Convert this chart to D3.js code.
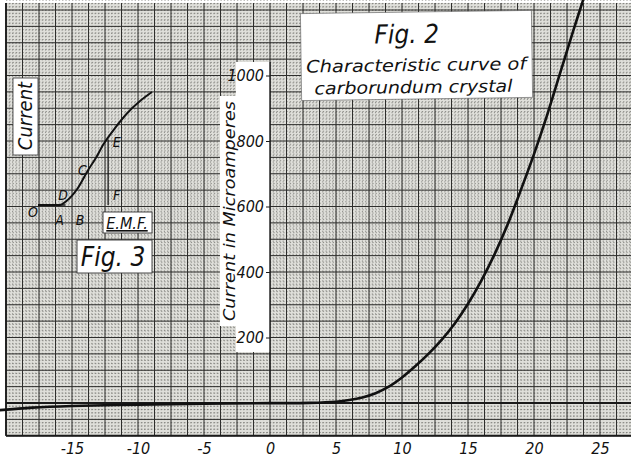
<!DOCTYPE html>
<html>
<head>
<meta charset="utf-8">
<script src="https://cdn.jsdelivr.net/npm/d3@7"></script>
<style>
    html, body { margin: 0; padding: 0; background: #fff; }
    svg text { font-family: "Liberation Sans Narrow", "DejaVu Sans Condensed", "Liberation Sans", sans-serif; font-style: italic; fill: #111; }
</style>
</head>
<body>
<div id="chart"></div>
<script>
// Fig. 2 - characteristic curve of carborundum crystal
var voltage = [-20.5, -18, -15, -10, -5, 0, 3, 5, 6, 7, 8, 9, 10, 11, 12, 13, 14, 15, 16, 17, 18, 19, 20, 21, 22, 23, 23.8];
var current = [-22, -14, -9, -5, -2, -0.5, 0.5, 4, 9, 17, 30, 50, 78, 112, 150, 193, 243, 303, 373, 453, 545, 650, 760, 880, 1010, 1140, 1240];
var xTicks = [-15, -10, -5, 0, 5, 10, 15, 20, 25];
var yTicks = [200, 400, 600, 800, 1000];

// Fig. 3 - small sketch, arbitrary units
var insetEmf = [0, 1.9, 2.5, 3.5, 4.4, 5.1, 5.7, 6.75, 7.8, 8.95, 10];
var insetCurrent = [0, 0, 0.35, 1.5, 3.1, 4.2, 5.3, 6.8, 8.1, 9.2, 10];
var insetLetters = ["O", "D", "C", "E", "F", "A", "B"];
var insetLetterEmf = [-0.45, 2.2, 3.9, 6.9, 6.9, 1.9, 3.7];
var insetLetterCurrent = [-0.7, 0.8, 3.0, 5.5, 0.8, -1.4, -1.4];

var W = 631, H = 457;

var svg = d3.select("#chart").append("svg")
    .attr("width", W).attr("height", H)
    .attr("xmlns", "http://www.w3.org/2000/svg");

var xScale = d3.scaleLinear().domain([0, 25]).range([270, 600]);
var yScale = d3.scaleLinear().domain([0, 1000]).range([403, 75.5]);

var gridLeft = xScale(-20), gridBottom = yScale(-100), gridTop = 3;

//paper
svg.append("rect").attr("width", W).attr("height", H).attr("fill", "#fff");
svg.append("rect")
    .attr("x", gridLeft).attr("y", gridTop)
    .attr("width", W - gridLeft).attr("height", gridBottom - gridTop)
    .attr("fill", "#dfdfda");

var grid = svg.append("g").attr("class", "grid");

// fine rulings, 5 per cell
var fineX = d3.range(-20, 28, 0.25), fineY = d3.range(-100, 1240, 10);
grid.selectAll(".fx").data(fineX).enter().append("line")
    .attr("x1", d => xScale(d)).attr("x2", d => xScale(d))
    .attr("y1", gridTop).attr("y2", gridBottom)
    .attr("stroke", "#6e6e6a").attr("stroke-width", 0.7)
    .attr("stroke-dasharray", "1.3,2");
grid.selectAll(".fy").data(fineY).enter().append("line")
    .attr("y1", d => yScale(d)).attr("y2", d => yScale(d))
    .attr("x1", gridLeft).attr("x2", W)
    .attr("stroke", "#6e6e6a").attr("stroke-width", 0.7)
    .attr("stroke-dasharray", "1.3,2");

// cell lines
var majorX = d3.range(-20, 28, 1.25), majorY = d3.range(-100, 1240, 50);
grid.selectAll(".mx").data(majorX).enter().append("line")
    .attr("x1", d => xScale(d)).attr("x2", d => xScale(d))
    .attr("y1", gridTop).attr("y2", gridBottom)
    .attr("stroke", "#2e2e2c").attr("stroke-width", 1);
grid.selectAll(".my").data(majorY).enter().append("line")
    .attr("y1", d => yScale(d)).attr("y2", d => yScale(d))
    .attr("x1", gridLeft).attr("x2", W)
    .attr("stroke", "#2e2e2c").attr("stroke-width", 1);

// zero line, edges
grid.append("line")
    .attr("x1", gridLeft).attr("x2", W)
    .attr("y1", yScale(0)).attr("y2", yScale(0))
    .attr("stroke", "#1a1a1a").attr("stroke-width", 1.8);
grid.append("line")
    .attr("x1", gridLeft).attr("x2", W)
    .attr("y1", gridBottom).attr("y2", gridBottom)
    .attr("stroke", "#1a1a1a").attr("stroke-width", 2.2);
grid.append("line")
    .attr("x1", gridLeft).attr("x2", gridLeft)
    .attr("y1", gridTop).attr("y2", gridBottom)
    .attr("stroke", "#1a1a1a").attr("stroke-width", 1.8);

//y label strip
svg.append("rect")
    .attr("x", 236).attr("y", 62)
    .attr("width", xScale(0) - 236).attr("height", 290)
    .attr("fill", "#fff");
svg.append("rect")
    .attr("x", 220).attr("y", 96)
    .attr("width", 17).attr("height", 230)
    .attr("fill", "#fff");
svg.append("line")
    .attr("x1", xScale(0)).attr("x2", xScale(0))
    .attr("y1", 62).attr("y2", yScale(0))
    .attr("stroke", "#1a1a1a").attr("stroke-width", 1.4);
svg.append("text")
    .attr("transform", "translate(235,211) rotate(-90)")
    .attr("text-anchor", "middle")
    .style("font-size", "16px")
    .attr("textLength", 220).attr("lengthAdjust", "spacingAndGlyphs")
    .text("Current in Microamperes");

var yAxis = svg.append("g")
    .attr("transform", "translate(" + xScale(0) + ",0)")
    .call(d3.axisLeft(yScale).tickValues(yTicks).tickSize(4).tickPadding(2).tickFormat(d => String(d)));
yAxis.select(".domain").remove();
yAxis.selectAll("line").attr("stroke", "#1a1a1a");
yAxis.selectAll("text").style("font-size", "16px").attr("fill", "#111")
    .style("font-family", null);

//x axis labels
var xAxis = svg.append("g")
    .attr("transform", "translate(0," + gridBottom + ")")
    .call(d3.axisBottom(xScale).tickValues(xTicks).tickSize(0).tickPadding(7).tickFormat(d => String(d)));
xAxis.select(".domain").remove();
xAxis.selectAll("text").style("font-size", "16px").attr("fill", "#111")
    .style("font-family", null);

//title box
var title_g = svg.append("g").attr("transform", "rotate(-0.8,416,55)");
title_g.append("rect")
    .attr("x", 301).attr("y", 12)
    .attr("width", 231).attr("height", 87)
    .attr("fill", "#fff").attr("stroke", "#555").attr("stroke-width", 0.6);
title_g.append("text").attr("x", 407).attr("y", 43)
    .attr("text-anchor", "middle").style("font-size", "26px")
    .text("Fig. 2");
title_g.append("text").attr("x", 416).attr("y", 71)
    .attr("text-anchor", "middle").style("font-size", "17px")
    .attr("textLength", 220).attr("lengthAdjust", "spacingAndGlyphs")
    .text("Characteristic  curve of");
title_g.append("text").attr("x", 413).attr("y", 93)
    .attr("text-anchor", "middle").style("font-size", "17px")
    .attr("textLength", 198).attr("lengthAdjust", "spacingAndGlyphs")
    .text("carborundum crystal");

//main curve
var line = d3.line()
    .x(d => xScale(d[0]))
    .y(d => yScale(d[1]))
    .curve(d3.curveCatmullRom.alpha(0.5));
svg.append("clipPath").attr("id", "paper-clip")
    .append("rect").attr("x", 0).attr("y", 0).attr("width", W).attr("height", gridBottom);
svg.append("path")
    .datum(d3.zip(voltage, current))
    .attr("clip-path", "url(#paper-clip)")
    .attr("d", line)
    .attr("fill", "none")
    .attr("stroke", "#111")
    .attr("stroke-width", 2.6)
    .attr("stroke-linecap", "round");

//Fig. 3 inset
var ix = d3.scaleLinear().domain([0, 10]).range([38, 152]);
var iy = d3.scaleLinear().domain([0, 10]).range([205, 92]);
var inset = svg.append("g").attr("class", "inset");

inset.append("rect").attr("x", 13).attr("y", 78).attr("width", 25).attr("height", 77)
    .attr("fill", "#fff").attr("stroke", "#333").attr("stroke-width", 0.8);
inset.append("text")
    .attr("transform", "translate(32,116) rotate(-90)")
    .attr("text-anchor", "middle").style("font-size", "20px")
    .text("Current");

inset.append("line")
    .attr("x1", ix(0)).attr("x2", ix(2.4))
    .attr("y1", iy(0)).attr("y2", iy(0))
    .attr("stroke", "#111").attr("stroke-width", 1.4);
inset.append("line")
    .attr("x1", ix(6.15)).attr("x2", ix(6.15))
    .attr("y1", iy(0)).attr("y2", iy(5.8))
    .attr("stroke", "#111").attr("stroke-width", 1.2);
inset.append("path")
    .datum(d3.zip(insetEmf, insetCurrent))
    .attr("d", d3.line().x(d => ix(d[0])).y(d => iy(d[1])).curve(d3.curveMonotoneX))
    .attr("fill", "none").attr("stroke", "#111").attr("stroke-width", 2);

inset.selectAll(".letter").data(insetLetters).enter().append("text")
    .attr("x", (d, i) => ix(insetLetterEmf[i]))
    .attr("y", (d, i) => iy(insetLetterCurrent[i]))
    .attr("text-anchor", "middle").attr("dominant-baseline", "middle")
    .style("font-size", "14px")
    .text(d => d);

inset.append("rect").attr("x", 103).attr("y", 212).attr("width", 49).attr("height", 21)
    .attr("fill", "#fff").attr("stroke", "#333").attr("stroke-width", 0.9);
inset.append("text").attr("x", 127).attr("y", 229)
    .attr("text-anchor", "middle").style("font-size", "16px")
    .attr("text-decoration", "underline")
    .text("E.M.F.");

inset.append("rect").attr("x", 77).attr("y", 240).attr("width", 75).attr("height", 33)
    .attr("fill", "#fff").attr("stroke", "#333").attr("stroke-width", 0.9);
inset.append("text").attr("x", 113).attr("y", 266)
    .attr("text-anchor", "middle").style("font-size", "26px")
    .text("Fig. 3");
</script>
</body>
</html>
